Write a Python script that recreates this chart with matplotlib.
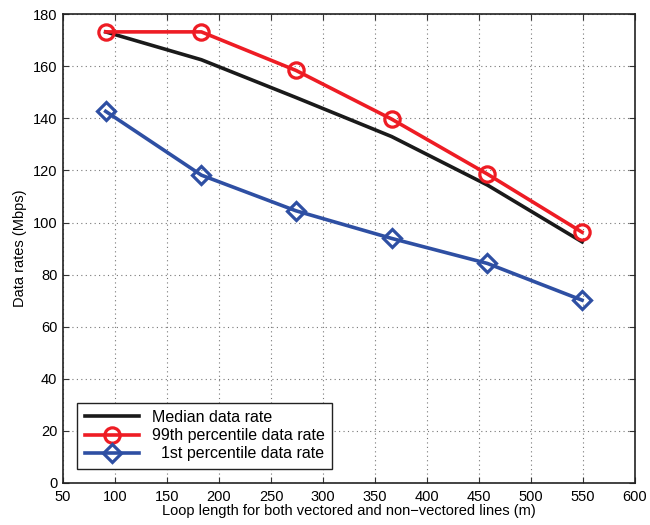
import matplotlib
matplotlib.use("Agg")
import matplotlib.pyplot as plt

plt.rcParams['font.family'] = ['Liberation Sans', 'DejaVu Sans']

loop_m = [91, 183, 274, 366, 458, 549]
median = [173.2, 162.5, 148.0, 133.0, 114.4, 92.6]
p99 = [173.2, 173.2, 158.4, 139.7, 118.6, 96.3]
p1 = [142.7, 118.2, 104.5, 93.9, 84.3, 70.2]

fig = plt.figure(figsize=(6.5, 5.25), dpi=100)
ax = fig.add_axes([0.097, 0.08, 0.88, 0.893])

ax.plot(loop_m, median, color='#1a1a1a', lw=2.6, label='Median data rate')
ax.plot(loop_m, p99, color='#ee1c24', lw=2.6, marker='o', ms=11, mfc='none', mew=2.3,
        label='99th percentile data rate')
ax.plot(loop_m, p1, color='#2e4fa3', lw=2.6, marker='D', ms=9, mfc='none', mew=2.3,
        label='  1st percentile data rate')

ax.set_xlim(50, 600)
ax.set_ylim(0, 180)
ax.set_xticks(range(50, 601, 50))
ax.set_yticks(range(0, 181, 20))
ax.grid(True, linestyle=(0, (1, 3)), color='#777777', lw=0.8)
ax.tick_params(direction='in', top=True, right=True, labelsize=10.5, length=4, color='#333333')
ax.tick_params(axis='x', pad=5)
ax.tick_params(axis='y', pad=4)
for s in ax.spines.values():
    s.set_linewidth(1.2)
    s.set_color('#222222')

ax.set_xlabel('Loop length for both vectored and non\u2212vectored lines (m)', fontsize=10.5, labelpad=0)
ax.set_ylabel('Data rates (Mbps)', fontsize=10.5, labelpad=4)

leg = ax.legend(loc='lower left', fontsize=11.5, fancybox=False, edgecolor='#222222',
                framealpha=1, borderaxespad=0.9, handlelength=3.4, labelspacing=0.2,
                borderpad=0.45)
leg.get_frame().set_linewidth(1.0)

fig.savefig('out.png', dpi=100)
